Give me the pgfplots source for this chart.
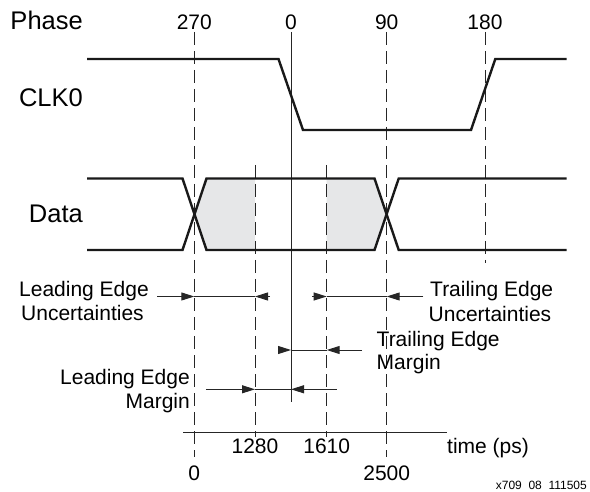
\documentclass[border=0pt]{standalone}
\usepackage{pgfplots}
\pgfplotsset{compat=1.18}
\usepackage{fontspec}
\setmainfont{Liberation Sans}
\usetikzlibrary{arrows.meta}
\definecolor{fillgray}{HTML}{E6E7E8}
\begin{document}
\begin{tikzpicture}
\begin{axis}[
  width=590pt, height=492pt, scale only axis,
  xmin=0, xmax=590, ymin=0, ymax=492, y dir=reverse,
  hide axis, clip=false,
]
\addplot[draw=none, forget plot] coordinates {(0,0) (590,492)};
% shaded windows
\addplot[fill=fillgray, draw=none] coordinates {(194.5,214.3) (206.7,178.5) (255,178.5) (255,250) (206.7,250) (194.5,214.3)};
\addplot[fill=fillgray, draw=none] coordinates {(326.7,178.5) (374.5,178.5) (386.7,214.3) (374.5,250) (326.7,250) (326.7,178.5)};
% dashed reference lines
\pgfplotsset{dl/.style={black!85, line width=0.85pt, dash pattern=on 13pt off 6pt}}
\addplot[dl] coordinates {(194.3,32) (194.3,457)};
\addplot[dl] coordinates {(386.7,32) (386.7,457)};
\addplot[dl] coordinates {(485,32) (485,263)};
\addplot[dl] coordinates {(255,165) (255,437)};
\addplot[dl] coordinates {(326.7,165) (326.7,437)};
% solid phase-0 line
\addplot[black!85, line width=0.95pt] coordinates {(291,32) (291,402)};
% CLK0
\addplot[black!90, line width=2.4pt, line join=miter] coordinates {(87,59) (278.5,59) (303,130) (471,130) (495.3,59) (566.5,59)};
% Data
\addplot[black!90, line width=2.4pt, line join=miter] coordinates {(87,178.5) (182.5,178.5) (206.5,250) (374.5,250) (398.7,178.5) (566.5,178.5)};
\addplot[black!90, line width=2.4pt, line join=miter] coordinates {(87,250) (182.5,250) (206.5,178.5) (374.5,178.5) (398.7,250) (566.5,250)};
% time axis
\addplot[black!85, line width=1.1pt] coordinates {(183.3,432.3) (447,432.3)};
% arrows
\pgfplotsset{al/.style={black!85, line width=0.95pt, -{Triangle[length=13pt,width=8pt]}}, pl/.style={black!85, line width=0.95pt}}
% Leading edge uncertainties
\addplot[al] coordinates {(157,296.5) (194.3,296.5)};
\addplot[pl] coordinates {(194.3,296.5) (255,296.5)};
\addplot[al] coordinates {(270,296.5) (255,296.5)};
% Trailing edge uncertainties
\addplot[al] coordinates {(312.4,296.5) (326.7,296.5)};
\addplot[pl] coordinates {(326.7,296.5) (386.7,296.5)};
\addplot[al] coordinates {(423.3,296.5) (386.7,296.5)};
% Trailing edge margin
\addplot[al] coordinates {(277.8,350) (291,350)};
\addplot[pl] coordinates {(291,350) (326.7,350)};
\addplot[al] coordinates {(362,350) (326.7,350)};
% Leading edge margin
\addplot[al] coordinates {(205.9,389.3) (255,389.3)};
\addplot[pl] coordinates {(255,389.3) (291,389.3)};
\addplot[al] coordinates {(336.8,389.3) (291,389.3)};
% labels
\def\big{\fontsize{25.5}{30}\selectfont}
\def\mid{\fontsize{21}{25}\selectfont}
\node[anchor=base east, inner sep=0pt, font=\big] at (axis cs:83,30) {Phase};
\node[anchor=base east, inner sep=0pt, font=\big] at (axis cs:83,106.7) {CLK0};
\node[anchor=base east, inner sep=0pt, font=\big] at (axis cs:83,222.5) {Data};
\node[anchor=base, inner sep=0pt, font=\mid] at (axis cs:194.3,29.5) {270};
\node[anchor=base, inner sep=0pt, font=\mid] at (axis cs:291,29.5) {0};
\node[anchor=base, inner sep=0pt, font=\mid] at (axis cs:386.7,29.5) {90};
\node[anchor=base, inner sep=0pt, font=\mid] at (axis cs:485,29.5) {180};
\node[anchor=base west, inner sep=0pt, font=\mid] at (axis cs:19,296.7) {Leading Edge};
\node[anchor=base west, inner sep=0pt, font=\mid] at (axis cs:21,321) {Uncertainties};
\node[anchor=base west, inner sep=0pt, font=\mid] at (axis cs:430,296.7) {Trailing Edge};
\node[anchor=base west, inner sep=0pt, font=\mid] at (axis cs:428.5,321.5) {Uncertainties};
\node[anchor=base west, inner sep=0pt, font=\mid] at (axis cs:376.5,346) {Trailing Edge};
\node[anchor=base west, inner sep=0pt, font=\mid] at (axis cs:376.5,370) {Margin};
\node[anchor=base east, inner sep=0pt, font=\mid] at (axis cs:190,384.5) {Leading Edge};
\node[anchor=base east, inner sep=0pt, font=\mid] at (axis cs:190,408.5) {Margin};
\node[anchor=base, inner sep=0pt, font=\mid] at (axis cs:255,453) {1280};
\node[anchor=base, inner sep=0pt, font=\mid] at (axis cs:326.7,453) {1610};
\node[anchor=base west, inner sep=0pt, font=\mid] at (axis cs:447,453) {time (ps)};
\node[anchor=base, inner sep=0pt, font=\mid] at (axis cs:194.3,480) {0};
\node[anchor=base, inner sep=0pt, font=\mid] at (axis cs:386.7,480) {2500};
\node[anchor=base east, inner sep=0pt, font=\fontsize{12}{14}\selectfont] at (axis cs:587,489) {x709\ \ 08\ \ 111505};
\end{axis}
\end{tikzpicture}
\end{document}
